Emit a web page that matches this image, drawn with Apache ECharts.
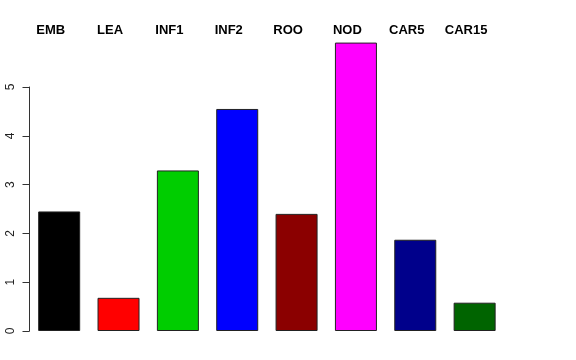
<!DOCTYPE html>
<html>
<head>
<meta charset="utf-8">
<script src="https://cdn.jsdelivr.net/npm/echarts@6/dist/echarts.min.js"></script>
<style>html,body{margin:0;padding:0;background:#fff}#c{width:576px;height:360px}</style>
</head>
<body>
<div id="c"></div>
<script>
var categories = ['EMB', 'LEA', 'INF1', 'INF2', 'ROO', 'NOD', 'CAR5', 'CAR15'];
var values = [2.45, 0.68, 3.29, 4.55, 2.40, 5.91, 1.87, 0.58];
var colors = ['#000000', '#FF0000', '#00CD00', '#0000FF', '#8B0000', '#FF00FF', '#00008B', '#006400'];
var yTicks = [0, 1, 2, 3, 4, 5];

var chart = echarts.init(document.getElementById('c'), null, {renderer: 'canvas'});
var option = {
  animation: false,
  backgroundColor: '#ffffff',
  grid: {left: 29.5, right: 71.7, top: 87, bottom: 29, containLabel: false},
  xAxis: {
    type: 'category',
    data: categories,
    axisLine: {show: false},
    axisTick: {show: false},
    axisLabel: {show: false},
    splitLine: {show: false}
  },
  yAxis: {
    type: 'value',
    min: yTicks[0],
    max: yTicks[yTicks.length - 1],
    interval: 1,
    axisLine: {show: true, lineStyle: {color: '#333', width: 1}},
    axisTick: {show: true, length: 7, lineStyle: {color: '#333'}},
    axisLabel: {rotate: 90, fontSize: 12, color: '#222', fontFamily: 'Liberation Sans', margin: 13},
    splitLine: {show: false}
  },
  series: [{
    type: 'bar',
    clip: false,
    barWidth: 42,
    data: values.map(function (v, i) {
      return {value: v, itemStyle: {color: colors[i]}};
    }),
    itemStyle: {borderColor: '#222', borderWidth: 1}
  }]
};
chart.setOption(option);

var texts = categories.map(function (c, i) {
  var p = chart.convertToPixel({xAxisIndex: 0}, c);
  return {
    type: 'text',
    x: p - 8.5,
    y: 30,
    style: {
      text: c,
      fill: '#000',
      font: 'bold 13px "Liberation Sans"',
      textAlign: 'center',
      textVerticalAlign: 'middle'
    }
  };
});
chart.setOption({graphic: texts});
</script>
</body>
</html>
